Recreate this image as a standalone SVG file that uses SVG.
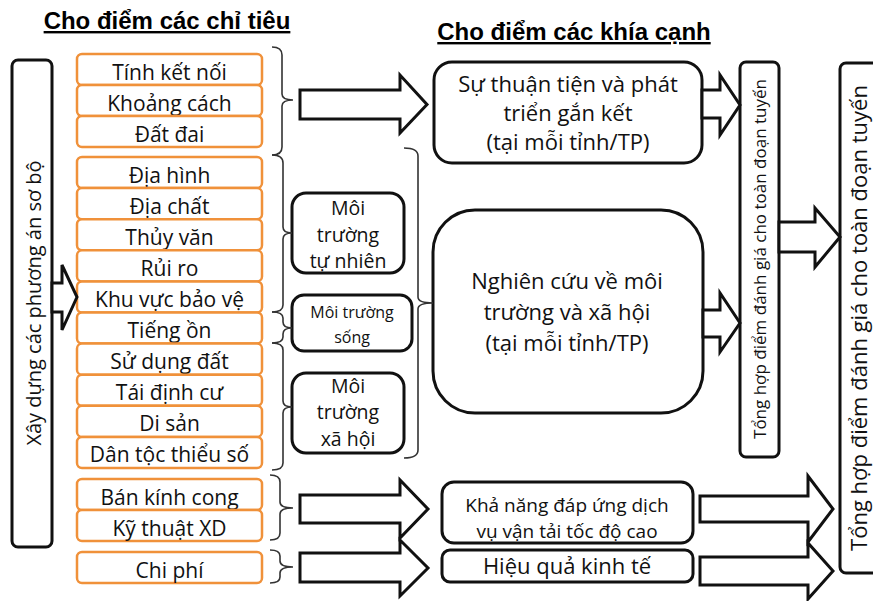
<svg xmlns="http://www.w3.org/2000/svg" width="873" height="601" viewBox="0 0 873 601">
<style>
.hdr{font-family:"Liberation Sans",Arial,sans-serif;font-weight:bold;font-size:24px;text-decoration:underline;fill:#000;text-anchor:middle}
.t{font-family:"Open Sans","Noto Sans",sans-serif;fill:#111;text-anchor:middle}
.r{font-size:21px}
.b{font-size:22px}
.row{fill:#fff;stroke:#F0913A;stroke-width:2.5}
.box{fill:#fff;stroke:#111;stroke-width:3}
.arr{fill:#fff;stroke:#111;stroke-width:3;stroke-linejoin:miter}
.br{fill:none;stroke:#333;stroke-width:1.6}
</style>
<rect width="873" height="601" fill="#fff"/>
<text class="hdr" x="167" y="29">Cho điểm các chỉ tiêu</text>
<text class="hdr" x="574" y="40">Cho điểm các khía cạnh</text>

<g id="xay-dung">
<rect class="box" x="12" y="60" width="40" height="487" rx="6"/>
<text class="t" font-size="20" transform="translate(41,303) rotate(-90)">Xây dựng các phương án sơ bộ</text>
</g>

<g id="indicators">
<g id="r-tinh-ket-noi"><rect class="row" x="77" y="54" width="185" height="31" rx="5"/><text class="t r" x="169.5" y="79.5">Tính kết nối</text></g>
<g id="r-khoang-cach"><rect class="row" x="77" y="85" width="185" height="31" rx="5"/><text class="t r" x="169.5" y="110.5">Khoảng cách</text></g>
<g id="r-dat-dai"><rect class="row" x="77" y="116" width="185" height="31" rx="5"/><text class="t r" x="169.5" y="141.5">Đất đai</text></g>
<g id="r-dia-hinh"><rect class="row" x="77" y="157" width="185" height="31.1" rx="5"/><text class="t r" x="169.5" y="182.5">Địa hình</text></g>
<g id="r-dia-chat"><rect class="row" x="77" y="188.1" width="185" height="31.1" rx="5"/><text class="t r" x="169.5" y="213.6">Địa chất</text></g>
<g id="r-thuy-van"><rect class="row" x="77" y="219.2" width="185" height="31.1" rx="5"/><text class="t r" x="169.5" y="244.7">Thủy văn</text></g>
<g id="r-rui-ro"><rect class="row" x="77" y="250.3" width="185" height="31.1" rx="5"/><text class="t r" x="169.5" y="275.8">Rủi ro</text></g>
<g id="r-khu-vuc"><rect class="row" x="77" y="281.4" width="185" height="31.1" rx="5"/><text class="t r" x="169.5" y="306.9">Khu vực bảo vệ</text></g>
<g id="r-tieng-on"><rect class="row" x="77" y="312.5" width="185" height="31.1" rx="5"/><text class="t r" x="169.5" y="338">Tiếng ồn</text></g>
<g id="r-su-dung-dat"><rect class="row" x="77" y="343.6" width="185" height="31.1" rx="5"/><text class="t r" x="169.5" y="369.1">Sử dụng đất</text></g>
<g id="r-tai-dinh-cu"><rect class="row" x="77" y="374.7" width="185" height="31.1" rx="5"/><text class="t r" x="169.5" y="400.2">Tái định cư</text></g>
<g id="r-di-san"><rect class="row" x="77" y="405.8" width="185" height="31.1" rx="5"/><text class="t r" x="169.5" y="431.3">Di sản</text></g>
<g id="r-dan-toc"><rect class="row" x="77" y="436.9" width="185" height="31.1" rx="5"/><text class="t r" x="169.5" y="462.4">Dân tộc thiểu số</text></g>
<g id="r-ban-kinh"><rect class="row" x="77" y="479" width="185" height="31" rx="5"/><text class="t r" x="169.5" y="504.5">Bán kính cong</text></g>
<g id="r-ky-thuat"><rect class="row" x="77" y="510" width="185" height="31" rx="5"/><text class="t r" x="169.5" y="535.5">Kỹ thuật XD</text></g>
<g id="r-chi-phi"><rect class="row" x="77" y="552" width="185" height="31" rx="5"/><text class="t r" x="169.5" y="577.5">Chi phí</text></g>
</g>

<g id="mt-tu-nhien">
<rect class="box" x="292" y="193" width="112" height="80" rx="14"/>
<text class="t" font-size="19.5" x="348" y="215">Môi</text>
<text class="t" font-size="19.5" x="348" y="242">trường</text>
<text class="t" font-size="19.5" x="348" y="268">tự nhiên</text>
</g>
<g id="mt-song">
<rect class="box" x="292" y="295" width="120" height="56" rx="12"/>
<text class="t" font-size="16" x="352" y="318">Môi trường</text>
<text class="t" font-size="16" x="352" y="343">sống</text>
</g>
<g id="mt-xa-hoi">
<rect class="box" x="292" y="373" width="112" height="80" rx="14"/>
<text class="t" font-size="19.5" x="348" y="393">Môi</text>
<text class="t" font-size="19.5" x="348" y="419">trường</text>
<text class="t" font-size="19.5" x="348" y="446">xã hội</text>
</g>

<g id="su-thuan-tien">
<rect class="box" x="434" y="62" width="268" height="101" rx="18"/>
<text class="t b" x="568" y="92">Sự thuận tiện và phát</text>
<text class="t b" x="568" y="121">triển gắn kết</text>
<text class="t b" x="568" y="150">(tại mỗi tỉnh/TP)</text>
</g>
<g id="nghien-cuu">
<rect class="box" x="433" y="210" width="270" height="203" rx="42"/>
<text class="t b" x="567" y="289">Nghiên cứu về môi</text>
<text class="t b" x="567" y="320">trường và xã hội</text>
<text class="t b" x="567" y="351">(tại mỗi tỉnh/TP)</text>
</g>
<g id="kha-nang">
<rect class="box" x="442" y="482" width="251" height="61" rx="12"/>
<text class="t" font-size="19" x="567" y="511.5">Khả năng đáp ứng dịch</text>
<text class="t" font-size="19" x="567" y="538">vụ vận tải tốc độ cao</text>
</g>
<g id="hieu-qua">
<rect class="box" x="442" y="550" width="251" height="32" rx="8"/>
<text class="t b" x="567" y="574">Hiệu quả kinh tế</text>
</g>

<g id="tong-hop-1">
<rect class="box" x="740" y="62" width="39" height="395" rx="6"/>
<text class="t" font-size="17" transform="translate(766,259) rotate(-90)">Tổng hợp điểm đánh giá cho toàn đoạn tuyến</text>
</g>
<g id="tong-hop-2">
<rect class="box" x="840" y="63" width="50" height="510" rx="6"/>
<text class="t" font-size="22" transform="translate(867,318) rotate(-90)">Tổng hợp điểm đánh giá cho toàn đoạn tuyến</text>
</g>

<g id="connectors">
<path class="br" d="M272,47 Q282,47 282,55 V94 Q282,100 293,100 Q282,100 282,106 V147 Q282,155 272,155"/>
<path class="br" d="M272,155 Q283,155 283,163 V227 Q283,233 292,233 Q283,233 283,239 V305 Q283,312 272,312"/>
<path class="br" d="M272,312 Q283,312 283,318 V322 Q283,328 292,328 Q283,328 283,334 V337 Q283,343 272,343"/>
<path class="br" d="M272,343 Q283,343 283,350 V401 Q283,407 292,407 Q283,407 283,413 V463 Q283,470 272,470"/>
<path class="br" d="M270,475 Q280,475 280,482 V502 Q280,508 293,508 Q280,508 280,514 V533 Q280,540 270,540"/>
<path class="br" d="M270,550 Q280,550 280,556 V561 Q280,567 293,567 Q280,567 280,573 V577 Q280,583 270,583"/>
<path class="br" d="M404,148 Q418,148 418,156 V297 Q418,303 433,303 Q418,303 418,309 V450 Q418,458 404,458"/>
<polygon class="arr" points="52,283 62,283 62,265 77,297 62,330 62,312 52,312"/>
<polygon class="arr" points="300,90 400,90 400,75 427,104.5 400,133 400,119 300,119"/>
<polygon class="arr" points="300,495 400,495 400,480 428,509 400,538 400,523 300,523"/>
<polygon class="arr" points="300,553 400,553 400,540 428,568 400,596 400,582 300,582"/>
<polygon class="arr" points="702,90 720,90 720,75 740,105 720,135 720,118 702,118"/>
<polygon class="arr" points="703,310 720,310 720,293 740,323 720,352 720,337 703,337"/>
<polygon class="arr" points="779,222 815,222 815,208 840,237 815,267 815,252 779,252"/>
<polygon class="arr" points="700,496 808,496 808,476 833,509 808,542 808,522 700,522"/>
<polygon class="arr" points="700,557 808,557 808,543 833,571 808,599 808,585 700,585"/>
</g>
</svg>
